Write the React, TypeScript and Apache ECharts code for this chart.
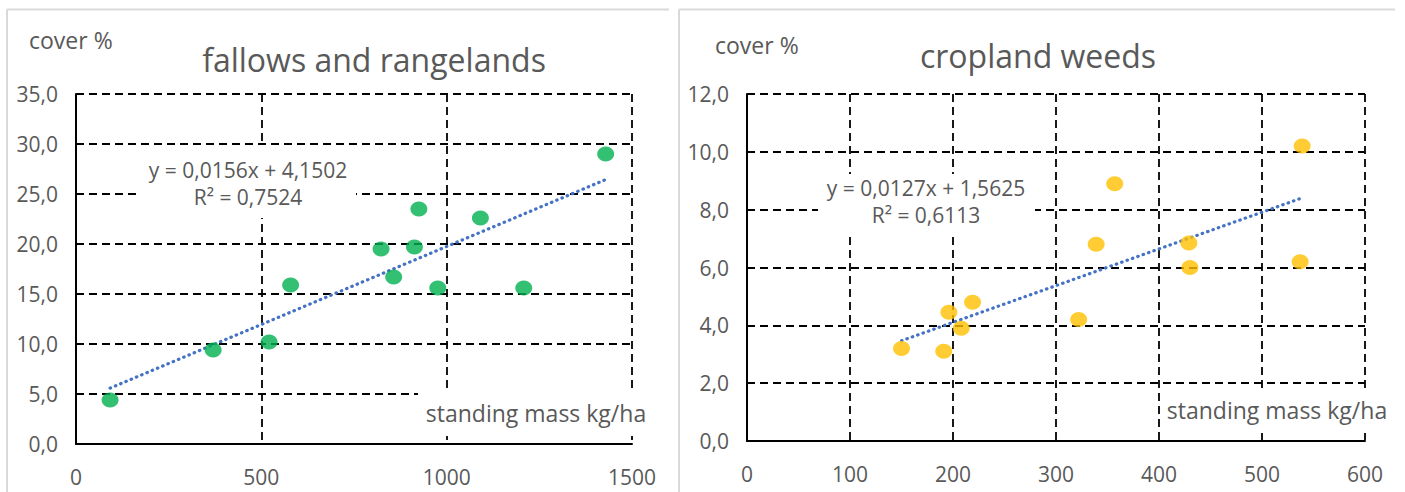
import React, { useEffect, useRef } from "react";
import * as echarts from "echarts";

// ---- data ----
const fallowMass = [92, 370, 521, 579, 823, 857, 913, 925, 976, 1091, 1208, 1429];
const fallowCover = [4.4, 9.4, 10.2, 15.9, 19.5, 16.7, 19.7, 23.5, 15.6, 22.6, 15.6, 29.0];
const weedMass = [150, 191, 196, 208, 219, 322, 339, 357, 429, 430, 537, 539];
const weedCover = [3.2, 3.1, 4.45, 3.9, 4.8, 4.2, 6.8, 8.9, 6.85, 6.0, 6.2, 10.2];

// trendline coefficients as printed in the charts
const fallowSlope = 0.0156;
const fallowIntercept = 4.1502;
const weedSlope = 0.0127;
const weedIntercept = 1.5625;

const fallowEq = ["y = 0,0156x + 4,1502", "R² = 0,7524"];
const weedEq = ["y = 0,0127x + 1,5625", "R² = 0,6113"];

const titles = ["fallows and rangelands", "cropland weeds"];
const yName = "cover %";
const xName = "standing mass kg/ha";

const fallowXAxis = { min: 0, max: 1500, interval: 500 };
const fallowYAxis = { min: 0, max: 35, interval: 5 };
const weedXAxis = { min: 0, max: 600, interval: 100 };
const weedYAxis = { min: 0, max: 12, interval: 2 };

const FONT = "'Open Sans', 'Noto Sans', sans-serif";
const TEXT = "#595959";

function pairs(xs: number[], ys: number[]) {
  return xs.map((x, i) => [x, ys[i]]);
}
function trend(xs: number[], a: number, b: number) {
  const lo = Math.min(...xs);
  const hi = Math.max(...xs);
  return [
    [lo, a * lo + b],
    [hi, a * hi + b],
  ];
}

const decimalComma = (v: number) => v.toFixed(1).replace(".", ",");
const plain = (v: number) => String(v);

export default function App() {
  const ref = useRef<HTMLDivElement>(null);
  useEffect(() => {
    if (!ref.current) return;
    const chart = echarts.init(ref.current, null, { renderer: "svg" });

    const split = { show: true, lineStyle: { color: "#000", width: 1.8, type: [8, 5] as any } };
    const axisLine = { show: true, lineStyle: { color: "#000", width: 2 } };
    const label = { color: TEXT, fontFamily: FONT, fontSize: 21 };

    const xAx = (cfg: any, gridIndex: number) => ({
      type: "value",
      gridIndex,
      ...cfg,
      axisLine,
      axisTick: { show: false },
      splitLine: split,
      axisLabel: { ...label, margin: 22, formatter: plain },
    });
    const yAx = (cfg: any, gridIndex: number) => ({
      type: "value",
      gridIndex,
      ...cfg,
      axisLine,
      axisTick: { show: false },
      splitLine: split,
      axisLabel: { ...label, margin: 18, formatter: decimalComma },
    });

    const trendStyle = { color: "#4472C4", width: 3.2, type: [0.5, 5.2] as any, cap: "round" };

    const txt = (s: string, x: number, y: number, size: number, align = "center") => ({
      type: "text",
      x,
      y,
      z: 101,
      style: { text: s, fill: TEXT, font: `${size}px ${FONT}`, textAlign: align, textVerticalAlign: "middle" },
    });
    const box = (x: number, y: number, w: number, h: number) => ({
      type: "rect",
      z: 100,
      shape: { x, y, width: w, height: h },
      style: { fill: "#fff" },
    });
    const border = (x1: number, y1: number, x2: number, y2: number) => ({
      type: "line",
      z: 100,
      shape: { x1, y1, x2, y2 },
      style: { stroke: "#d9d9d9", lineWidth: 2 },
    });

    chart.setOption({
      animation: false,
      backgroundColor: "#fff",
      grid: [
        { left: 76, top: 94, width: 556, height: 350 },
        { left: 747, top: 94, width: 618, height: 347 },
      ],
      xAxis: [xAx(fallowXAxis, 0), xAx(weedXAxis, 1)],
      yAxis: [yAx(fallowYAxis, 0), yAx(weedYAxis, 1)],
      series: [
        {
          type: "scatter",
          xAxisIndex: 0,
          yAxisIndex: 0,
          data: pairs(fallowMass, fallowCover),
          symbol: "circle",
          symbolSize: [17, 15],
          itemStyle: { color: "#00B050" },
          z: 5,
        },
        {
          type: "line",
          xAxisIndex: 0,
          yAxisIndex: 0,
          data: trend(fallowMass, fallowSlope, fallowIntercept),
          showSymbol: false,
          symbol: "none",
          lineStyle: trendStyle,
          z: 4,
        },
        {
          type: "scatter",
          xAxisIndex: 1,
          yAxisIndex: 1,
          data: pairs(weedMass, weedCover),
          symbol: "circle",
          symbolSize: [17, 15],
          itemStyle: { color: "#FFC000" },
          z: 5,
        },
        {
          type: "line",
          xAxisIndex: 1,
          yAxisIndex: 1,
          data: trend(weedMass, weedSlope, weedIntercept),
          showSymbol: false,
          symbol: "none",
          lineStyle: trendStyle,
          z: 4,
        },
      ],
      graphic: [
        border(7, 9.5, 669, 9.5),
        border(7, 9.5, 7, 492),
        border(679, 9.5, 1395, 9.5),
        border(679, 9.5, 679, 492),
        txt(yName, 29, 40, 23, "left"),
        txt(yName, 715, 45, 23, "left"),
        txt(titles[0], 374, 59, 32),
        txt(titles[1], 1038, 55, 32),
        box(140, 145, 216, 73),
        txt(fallowEq[0], 248, 170, 21),
        txt(fallowEq[1], 248, 197, 21),
        box(818, 174, 217, 59),
        txt(weedEq[0], 926, 188, 21),
        txt(weedEq[1], 926, 215, 21),
        box(418, 390, 237, 46),
        txt(xName, 536, 413, 23),
        box(1160, 388, 232, 45),
        txt(xName, 1277, 410, 23),
      ],
    });
    return () => chart.dispose();
  }, []);
  return (
    <div
      ref={ref}
      style={{ position: "fixed", left: 0, top: 0, width: 1405, height: 492, background: "#fff" }}
    />
  );
}
